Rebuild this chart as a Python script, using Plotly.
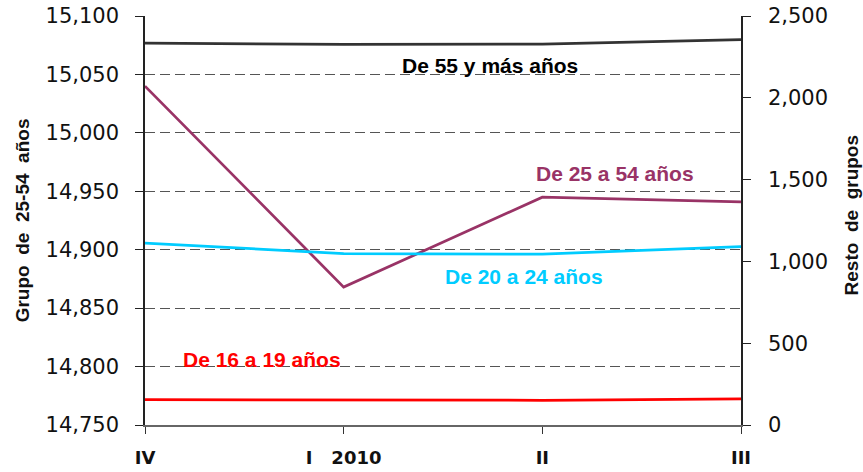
import plotly.graph_objects as go

# ---- data ----
categories = ["IV", "I\u00a0\u00a0\u00a02010", "II", "III"]
grupo_25_54 = [15040, 14868, 14945, 14941]   # left axis
de_55_mas = [2334, 2326, 2328, 2356]         # right axis
de_20_24 = [1112, 1048, 1044, 1091]          # right axis
de_16_19 = [155, 151, 151, 160]              # right axis

left_ticks = [14750, 14800, 14850, 14900, 14950, 15000, 15050, 15100]
right_ticks = [0, 500, 1000, 1500, 2000, 2500]

C_BLACK = "#333333"
C_PURPLE = "#993366"
C_CYAN = "#00CCFF"
C_RED = "#FF0000"

fig = go.Figure()
fig.add_trace(go.Scatter(x=categories, y=de_55_mas, mode="lines", yaxis="y2",
                         line=dict(color=C_BLACK, width=2.75), name="De 55 y más años"))
fig.add_trace(go.Scatter(x=categories, y=de_20_24, mode="lines", yaxis="y2",
                         line=dict(color=C_CYAN, width=2.75), name="De 20 a 24 años"))
fig.add_trace(go.Scatter(x=categories, y=de_16_19, mode="lines", yaxis="y2",
                         line=dict(color=C_RED, width=2.75), name="De 16 a 19 años"))
fig.add_trace(go.Scatter(x=categories, y=grupo_25_54, mode="lines", yaxis="y",
                         line=dict(color=C_PURPLE, width=2.75), name="De 25 a 54 años"))

tick_font = dict(family="DejaVu Sans", size=21, color="#111111")

fig.update_layout(
    width=863, height=472,
    margin=dict(l=145, r=122, t=16, b=47, autoexpand=False),
    paper_bgcolor="white", plot_bgcolor="white",
    showlegend=False,
    xaxis=dict(type="category", range=[0, 3], showgrid=False, zeroline=False,
               automargin=False,
               showline=True, linecolor="#666666", linewidth=1.5,
               ticks="outside", ticklen=7, tickcolor="#333333",
               tickfont=dict(family="DejaVu Sans", size=18, color="#111111", weight="bold"),
               ticklabelstandoff=9),
    yaxis=dict(range=[14750, 15100], tickvals=left_ticks, tickformat=",d",
               automargin=False,
               showgrid=True, gridcolor="#555555", gridwidth=1, griddash="10px,5px",
               zeroline=False, showline=True, linecolor="#222222", linewidth=1.5,
               ticks="outside", ticklen=8, tickcolor="#222222",
               tickfont=tick_font, ticklabelstandoff=12),
    yaxis2=dict(range=[0, 2500], tickvals=right_ticks, tickformat=",d",
                overlaying="y", side="right", anchor="x", automargin=False,
                showgrid=False, zeroline=False, showline=True,
                linecolor="#222222", linewidth=1.5,
                ticks="outside", ticklen=8, tickcolor="#222222",
                tickfont=tick_font, ticklabelstandoff=13),
    yaxis3=dict(range=[14750, 15100], tickvals=left_ticks, overlaying="y",
                side="left", anchor="free", position=0, automargin=False,
                showgrid=False, zeroline=False, showline=False,
                ticks="inside", ticklen=7, tickcolor="#222222", showticklabels=False),
    yaxis4=dict(range=[0, 2500], tickvals=right_ticks, overlaying="y",
                side="right", anchor="free", position=1, automargin=False,
                showgrid=False, zeroline=False, showline=False,
                ticks="inside", ticklen=6, tickcolor="#222222", showticklabels=False),
)

ann_font = "Liberation Sans, Arial, sans-serif"
labels = [
    ("De 55 y más años", "#000000", 0.579, 0.879),
    ("De 25 a 54 años", C_PURPLE, 0.789, 0.616),
    ("De 20 a 24 años", C_CYAN, 0.636, 0.364),
    ("De 16 a 19 años", C_RED, 0.196, 0.161),
]
for txt, col, xp, yp in labels:
    fig.add_annotation(text="<b>" + txt + "</b>", xref="paper", yref="paper",
                       x=xp, y=yp, xanchor="center", yanchor="middle",
                       showarrow=False, font=dict(family=ann_font, size=21, color=col))

fig.add_annotation(text="<b>Grupo  de  25-54  años</b>", xref="paper", yref="paper",
                   x=-0.206, y=0.501, xanchor="center", yanchor="middle", textangle=-90,
                   showarrow=False, font=dict(family=ann_font, size=19, color="#111111"))
fig.add_annotation(text="<b>Resto  de  grupos</b>", xref="paper", yref="paper",
                   x=1.185, y=0.513, xanchor="center", yanchor="middle", textangle=-90,
                   showarrow=False, font=dict(family=ann_font, size=19, color="#111111"))

fig.write_html("out.html", config={"displayModeBar": False},
               post_script="document.body.style.margin='0px';document.body.style.padding='0px';")
